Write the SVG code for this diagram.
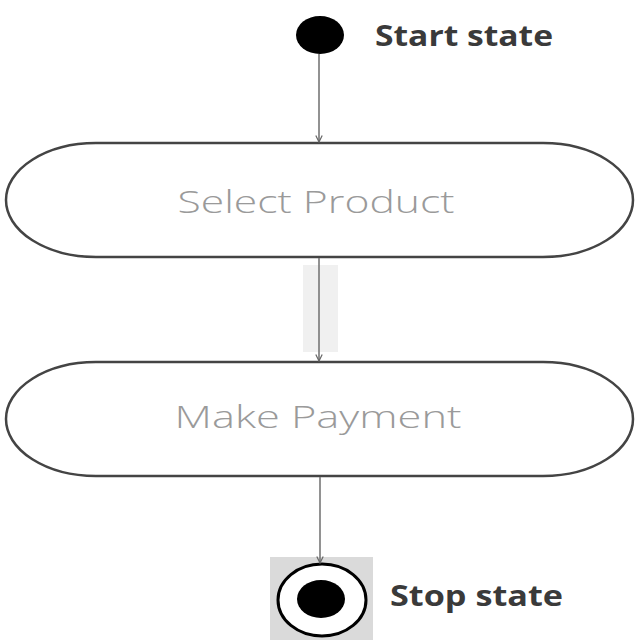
<svg xmlns="http://www.w3.org/2000/svg" width="640" height="640" viewBox="0 0 640 640">
<style>
.state{fill:#fff;stroke:#444;stroke-width:2.5}
.label{font-family:"Open Sans","Liberation Sans",sans-serif;font-weight:300;font-size:32px;fill:#9a9a9a;text-anchor:middle}
.note{font-family:"Open Sans","Liberation Sans",sans-serif;font-weight:bold;font-size:28px;fill:#3a3a3a}
.conn{stroke:#777;stroke-width:1.6;fill:none}
</style>
<defs>
<marker id="arr" viewBox="0 0 10 10" refX="9" refY="5" markerWidth="8" markerHeight="8" markerUnits="userSpaceOnUse" orient="auto">
<path d="M1,1 L9,5 L1,9" fill="none" stroke="#666" stroke-width="1.5"/>
</marker>
</defs>
<rect width="640" height="640" fill="#fff"/>
<g id="start">
<ellipse cx="320" cy="35" rx="24" ry="19" fill="#000"/>
<text class="note" x="375" y="46" textLength="178" lengthAdjust="spacingAndGlyphs">Start state</text>
</g>
<g id="select-product">
<rect class="state" x="6" y="143" width="627" height="114" rx="90" ry="57"/>
<text class="label" x="316" y="213" textLength="277" lengthAdjust="spacingAndGlyphs">Select Product</text>
</g>
<g id="make-payment">
<rect class="state" x="6" y="362" width="627" height="114" rx="90" ry="57"/>
<text class="label" x="318" y="428" textLength="287" lengthAdjust="spacingAndGlyphs">Make Payment</text>
</g>
<g id="stop">
<rect x="270" y="557" width="103" height="83" fill="#dadada"/>
<ellipse cx="322" cy="600" rx="44" ry="36" fill="#fff" stroke="#000" stroke-width="3"/>
<ellipse cx="321" cy="599" rx="24" ry="19" fill="#000"/>
<text class="note" x="390" y="606" textLength="173" lengthAdjust="spacingAndGlyphs">Stop state</text>
</g>
<g id="connectors">
<rect x="303" y="265" width="35" height="87" fill="#f0f0f0"/>
<line class="conn" x1="319" y1="54" x2="319" y2="142" marker-end="url(#arr)"/>
<line class="conn" x1="319" y1="258" x2="319" y2="361" marker-end="url(#arr)" stroke="#555" stroke-width="2"/>
<line class="conn" x1="320" y1="477" x2="320" y2="563" marker-end="url(#arr)"/>
</g>
</svg>
